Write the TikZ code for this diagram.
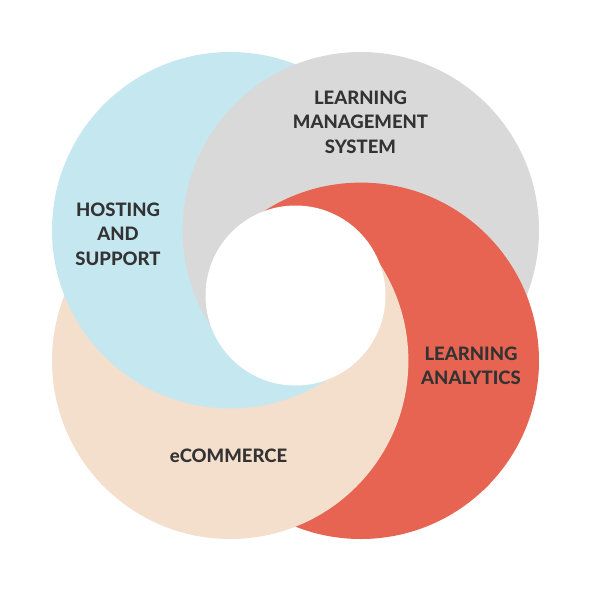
\documentclass[tikz,border=0pt]{standalone}
\usepackage{fontspec}
\setmainfont{Lato}
\newfontfamily\ringfont{Lato Heavy}
\definecolor{hostblue}{RGB}{197,232,240}
\definecolor{lmsgray}{RGB}{217,217,217}
\definecolor{lared}{RGB}{232,100,82}
\definecolor{ecombeige}{RGB}{244,222,204}
\definecolor{labeldark}{RGB}{51,51,51}
\usetikzlibrary{positioning}

\begin{document}
\begin{tikzpicture}[
  x=1pt,y=-1pt,
  lbl/.style={font=\ringfont\fontsize{18.5}{24.5}\selectfont,text=labeldark,
    align=center,inner sep=0pt}
]
  \useasboundingbox (0,0) rectangle (600,600);
  % Centres
  \coordinate (mid) at (295.5,295.5);
  \coordinate (c-hostblue) at (230.2,230.2);
  \coordinate (c-lmsgray) at (360.8,230.2);
  \coordinate (c-lared) at (360.8,360.8);
  \coordinate (c-ecombeige) at (230.2,360.8);
  % Rings, one wedge at a time (each one covers the one before it)
  \foreach \a/\ca/\cb/\cc/\cd in {
      270/ecombeige/hostblue/lmsgray/lared,
      0/hostblue/lmsgray/lared/ecombeige,
      90/lmsgray/lared/ecombeige/hostblue,
      180/lared/ecombeige/hostblue/lmsgray}
  {
    \begin{scope}
      \clip (mid) -- +(\a-46:800) -- +(\a+46:800) -- cycle;
      \begin{scope}[transparency group]
        \foreach \c in {\ca,\cb,\cc,\cd}
          \fill[\c] (c-\c) circle[radius=178.2];
      \end{scope}
    \end{scope}
  }
  % Hole
  \fill[white] (mid) circle[radius=90];
  % Labels
  \node[lbl] (lms) at (360.5,122) {LEARNING\\MANAGEMENT\\SYSTEM};
  \node[lbl] (host) at (118,234) {HOSTING\\AND\\SUPPORT};
  \node[lbl] (analytics) at (471,366) {LEARNING\\ANALYTICS};
  \node[lbl] (ecom) at (228.5,456) {eCOMMERCE};
\end{tikzpicture}
\end{document}
